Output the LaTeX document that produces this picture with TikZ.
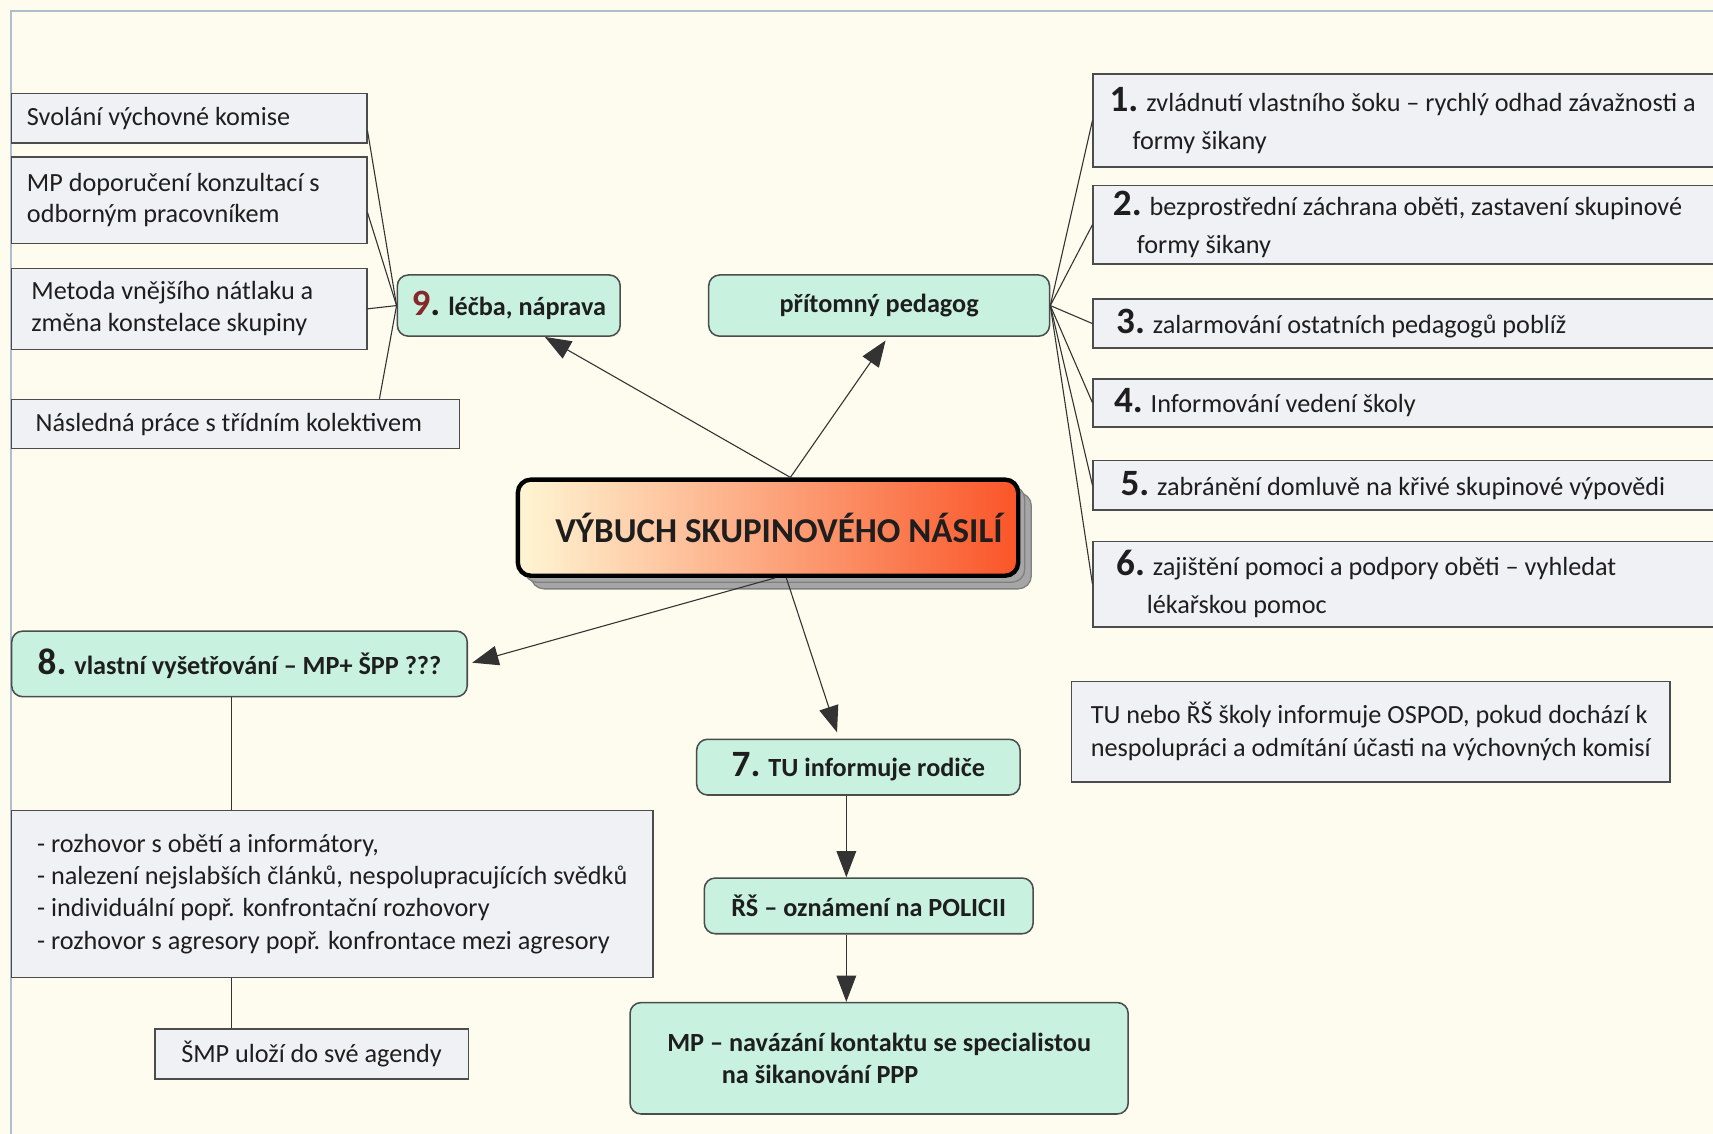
\documentclass[tikz,border=0pt]{standalone}
\usepackage{fontspec}
\setmainfont{Carlito}
\usetikzlibrary{arrows.meta,calc,shadows}
\definecolor{bg}{RGB}{253,252,238}
\definecolor{gfill}{RGB}{239,241,244}
\definecolor{mint}{RGB}{200,241,224}
\definecolor{framec}{RGB}{175,190,205}
\definecolor{txt}{RGB}{30,30,30}
\definecolor{nine}{RGB}{135,40,40}
\definecolor{gA}{RGB}{255,246,212}
\definecolor{gB}{RGB}{247,160,100}
\definecolor{gC}{RGB}{250,85,40}
\newcommand\nmb[1]{{\fontsize{17}{17}\selectfont\bfseries #1.}}
\newcommand\bx[2]{\parbox{#1}{\raggedright #2}}
\begin{document}
\begin{tikzpicture}[x=0.5pt,y=-0.5pt,
  gbox/.style={draw=black!70, fill=gfill, line width=0.7pt, anchor=north west,
    inner ysep=0pt, text=txt, font=\fontsize{12}{14.5}\selectfont},
  rbox/.style={gbox, minimum width=287.5pt, font=\fontsize{12}{17.5}\selectfont},
  mbox/.style={draw=black!70, fill=mint, line width=0.7pt, rounded corners=5pt, anchor=north west,
    align=center, inner sep=0pt, text=txt, font=\fontsize{12}{15}\selectfont\bfseries},
  conn/.style={draw=black!80, line width=0.5pt},
  arr/.style={conn, -{Triangle[length=12pt,width=9pt]}},
]
% background and frame
\fill[bg] (0,0) rectangle (1568,1038);
\useasboundingbox (0,0) rectangle (1568,1038);
\draw[framec, line width=1pt] (10,1038) -- (10,10) -- (1568,10);

% left boxes
\node[gbox, minimum width=162.5pt, minimum height=22.5pt, inner xsep=7pt] (svol) at (10,85) {\bx{148.5pt}{Svolání výchovné komise}};
\node[gbox, minimum width=162.5pt, minimum height=39.5pt, inner xsep=7pt] (mpdop) at (10,143) {\bx{148.5pt}{MP doporučení konzultací s\\odborným pracovníkem}};
\node[gbox, minimum width=162.5pt, minimum height=37pt, inner xsep=9pt] (metoda) at (10,245) {\bx{144.5pt}{Metoda vnějšího nátlaku a\\změna konstelace skupiny}};
\node[gbox, minimum width=205pt, minimum height=22.5pt, inner xsep=11pt] (nasl) at (10,365) {\bx{183pt}{Následná práce s třídním kolektivem}};

% mint nodes
\node[mbox, minimum width=102pt, minimum height=28pt] (n9) at (363,251) {{\fontsize{17}{17}\selectfont\bfseries\textcolor{nine}{9}.} léčba, náprava};
\node[mbox, minimum width=156pt, minimum height=28pt] (ped) at (648,251) {přítomný pedagog};
\node[mbox, minimum width=208.5pt, minimum height=30pt] (n8) at (10,577) {\nmb{8} vlastní vyšetřování – MP+ ŠPP ???};
\node[mbox, minimum width=148pt, minimum height=25.5pt] (n7) at (637,676) {\nmb{7} TU informuje rodiče};
\node[mbox, minimum width=150.5pt, minimum height=25.5pt] (rs) at (644,803) {ŘŠ – oznámení na POLICII};
\node[mbox, minimum width=228pt, minimum height=51pt, align=left] (mp) at (576,917) {MP – navázání kontaktu se specialistou\\\hspace*{25pt}na šikanování PPP};

% right boxes
\node[rbox, minimum height=42.5pt, inner xsep=7.5pt] (r1) at (1000,67) {\bx{300pt}{\nmb{1} zvládnutí vlastního šoku – rychlý odhad závažnosti a\\\hspace*{10.5pt}formy šikany}};
\node[rbox, minimum height=36pt, inner xsep=9pt] (r2) at (1000,169) {\bx{300pt}{\nmb{2} bezprostřední záchrana oběti, zastavení skupinové\\\hspace*{11pt}formy šikany}};
\node[rbox, minimum height=22.5pt, inner xsep=10.5pt] (r3) at (1000,273) {\bx{300pt}{\nmb{3} zalarmování ostatních pedagogů poblíž}};
\node[rbox, minimum height=22pt, inner xsep=9.5pt] (r4) at (1000,346) {\bx{300pt}{\nmb{4} Informování vedení školy}};
\node[rbox, minimum height=22.5pt, inner xsep=12.5pt] (r5) at (1000,421) {\bx{300pt}{\nmb{5} zabránění domluvě na křivé skupinové výpovědi}};
\node[rbox, minimum height=39pt, inner xsep=10.5pt] (r6) at (1000,495) {\bx{300pt}{\nmb{6} zajištění pomoci a podpory oběti – vyhledat\\\hspace*{14pt}lékařskou pomoc}};

% lower grey boxes
\node[gbox, minimum width=293.5pt, minimum height=76.5pt, align=left, font=\fontsize{12}{14.85}\selectfont] (list) at (10,741) {- rozhovor s obětí a informátory,\\- nalezení nejslabších článků, nespolupracujících svědků\\- individuální popř. konfrontační rozhovory\\- rozhovor s agresory popř. konfrontace mezi agresory};
\node[gbox, minimum width=143.5pt, minimum height=23pt] (smp) at (141,941) {ŠMP uloží do své agendy};
\node[gbox, minimum width=274pt, minimum height=46pt, align=left, font=\fontsize{12}{15}\selectfont] (tu) at (980,623) {TU nebo ŘŠ školy informuje OSPOD, pokud dochází k\\nespolupráci a odmítání účasti na výchovných komisí};

% central node
\node[draw=black, line width=2pt, rounded corners=6pt, anchor=north west,
  minimum width=229pt, minimum height=44pt, inner sep=0pt,
  left color=gA, middle color=gB, right color=gC,
  double copy shadow={shadow xshift=3pt, shadow yshift=-3pt, fill=black!35, draw=black!50, line width=0.6pt},
  text=txt, font=\fontsize{16}{18}\selectfont\bfseries] (cen) at (472,437) {\hspace*{10pt}VÝBUCH SKUPINOVÉHO NÁSILÍ};

% connectors
\draw[conn] (svol.-4.7) -- (n9.west);
\draw[conn] (mpdop.-4.7) -- (n9.west);
\draw[conn] (metoda.east) -- (n9.west);
\draw[conn] (nasl.10) -- (n9.west);
\foreach \r in {r1,r2,r3,r4,r5,r6} \draw[conn] (ped.east) -- (\r.west);

\draw[arr] (cen.66.6) -- (n9.-41);
\draw[arr, shorten >=2pt] (cen.66.6) -- (ped.-74);
\draw[arr, shorten >=2pt] (cen.-82) -- (n8.east);
\draw[arr, shorten >=3pt] (cen.-70) -- (n7.124);

\coordinate (ax) at ([xshift=-5.5pt]n7.south);
\draw[arr] (ax) -- (ax |- rs.north);
\coordinate (bx) at ([xshift=-10.25pt]rs.south);
\draw[arr] (bx) -- (bx |- mp.north);
\coordinate (lx) at ([xshift=-3.75pt]n8.south);
\draw[conn] (lx) -- (lx |- list.north);
\draw[conn] (lx |- list.south) -- (lx |- smp.north);
\end{tikzpicture}
\end{document}
